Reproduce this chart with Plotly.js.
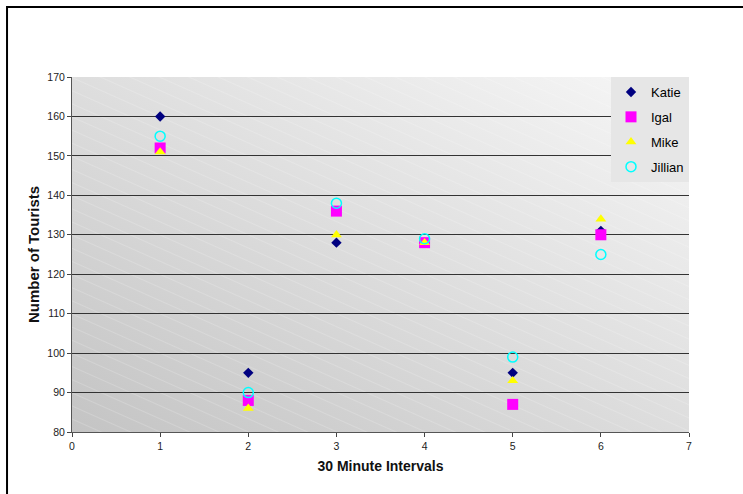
<!DOCTYPE html>
<html><head><meta charset="utf-8">
<script src="https://cdn.plot.ly/plotly-3.0.1.min.js"></script>
<style>html,body{margin:0;padding:0;background:#fff;}#chart{width:743px;height:494px;}</style>
</head><body><div id="chart"></div>
<script>
const intervals = [1, 2, 3, 4, 5, 6];
const katie   = [160, 95, 128, 128, 95, 131];
const igal    = [152, 88, 136, 128, 87, 130];
const mike    = [151, 86, 130, 128, 93, 134];
const jillian = [155, 90, 138, 129, 99, 125];
const yTicks = [80, 90, 100, 110, 120, 130, 140, 150, 160, 170];
const xTicks = [0, 1, 2, 3, 4, 5, 6, 7];

const svg = '<svg xmlns="http://www.w3.org/2000/svg" width="617" height="355" viewBox="0 0 617 355">' +
 '<defs><linearGradient id="g" x1="0" y1="1" x2="1" y2="0">' +
 '<stop offset="0" stop-color="#c4c4c4"/><stop offset="1" stop-color="#f7f7f7"/></linearGradient>' +
 '<pattern id="p" width="12" height="12" patternUnits="userSpaceOnUse" patternTransform="rotate(24)">' +
 '<line x1="0" y1="0" x2="12" y2="0" stroke="#ffffff" stroke-opacity="0.35" stroke-width="1"/></pattern></defs>' +
 '<rect width="617" height="355" fill="url(#g)"/><rect width="617" height="355" fill="url(#p)"/></svg>';
const bg = 'data:image/svg+xml;utf8,' + encodeURIComponent(svg);

function tr(name, y, marker) {
  return {x: intervals, y: y, name: name, type: 'scatter', mode: 'markers', legendgroup: name, marker: marker};
}
const data = [
  tr('Katie', katie, {symbol: 'diamond', color: '#000080', size: 8}),
  tr('Igal', igal, {symbol: 'square', color: '#ff00ff', size: 11}),
  tr('Mike', mike, {symbol: 'triangle-up', color: '#ffff00', size: 9.5}),
  tr('Jillian', jillian, {symbol: 'circle-open', color: '#00ffff', size: 10, line: {width: 1.5}})
];
const layout = {
  width: 743, height: 494,
  margin: {l: 72, r: 54, t: 77, b: 62},
  paper_bgcolor: '#ffffff',
  plot_bgcolor: 'rgba(0,0,0,0)',
  font: {family: 'Arial, Liberation Sans, sans-serif', size: 10.5, color: '#222'},
  showlegend: true,
  legend: {x: 1, xanchor: 'right', y: 1, yanchor: 'top', bgcolor: '#e6e6e6',
           font: {size: 13, color: '#000'}, tracegroupgap: 5, itemwidth: 30},
  xaxis: {range: [0, 7], tickvals: xTicks, ticks: 'outside', ticklen: 4, tickcolor: '#444',
          showgrid: false, zeroline: false, showline: true, linecolor: '#555', linewidth: 1,
          title: {text: '30 Minute Intervals', font: {size: 14, color: '#111', weight: 'bold'}, standoff: 10}},
  yaxis: {range: [80, 170], tickvals: yTicks, ticks: 'outside', ticklen: 4, tickcolor: '#444',
          showgrid: true, gridcolor: '#333', gridwidth: 1, zeroline: false,
          showline: true, linecolor: '#555', linewidth: 1,
          title: {text: 'Number of Tourists', font: {size: 15, color: '#111', weight: 'bold'}, standoff: 4}},
  images: [{source: bg, xref: 'paper', yref: 'paper', x: 0, y: 1, sizex: 1, sizey: 1,
            sizing: 'stretch', layer: 'below', xanchor: 'left', yanchor: 'top'}],
  shapes: [{type: 'rect', xref: 'paper', yref: 'paper', x0: -0.1053, x1: 1.2, y0: -0.3, y1: 1.197,
            line: {color: '#000', width: 2}, fillcolor: 'rgba(0,0,0,0)', layer: 'below'}]
};
Plotly.newPlot('chart', data, layout, {displayModeBar: false, staticPlot: true});
</script></body></html>
